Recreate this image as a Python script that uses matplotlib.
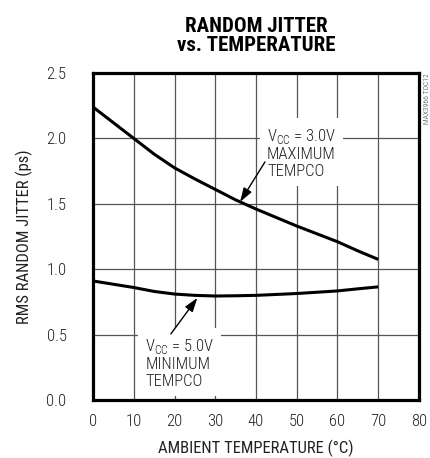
import matplotlib
matplotlib.use("Agg")
import matplotlib.pyplot as plt

# values
temp_c = [0, 5, 10, 15, 20, 25, 30, 35, 40, 45, 50, 55, 60, 65, 70]
jitter_3v0 = [2.24, 2.12, 2.00, 1.88, 1.775, 1.69, 1.61, 1.53, 1.46, 1.395, 1.33, 1.27, 1.21, 1.14, 1.075]
jitter_5v0 = [0.91, 0.885, 0.86, 0.83, 0.81, 0.80, 0.795, 0.797, 0.80, 0.807, 0.814, 0.824, 0.834, 0.85, 0.865]

xticks = [0, 10, 20, 30, 40, 50, 60, 70, 80]
yticks = [0.0, 0.5, 1.0, 1.5, 2.0, 2.5]

font = ["Roboto Condensed", "DejaVu Sans"]
plt.rcParams["font.family"] = font
plt.rcParams["font.weight"] = 300
plt.rcParams["mathtext.fontset"] = "custom"
plt.rcParams["mathtext.rm"] = "Roboto Condensed:light"

fig = plt.figure(figsize=(4.30, 4.58), dpi=100)
ax = fig.add_axes([93 / 430, 1 - 400 / 458, 326 / 430, 327 / 458])

ax.plot(temp_c, jitter_3v0, color="black", lw=2.2, solid_capstyle="butt", zorder=3)
ax.plot(temp_c, jitter_5v0, color="black", lw=2.2, solid_capstyle="butt", zorder=3)

ax.set_xlim(0, 80)
ax.set_ylim(0, 2.5)
ax.set_xticks(xticks)
ax.set_yticks(yticks)
ax.set_xticklabels([str(t) for t in xticks])
ax.set_yticklabels(["%.1f" % t for t in yticks])
ax.tick_params(length=0, labelsize=12, labelcolor="#222222")
ax.tick_params(axis="y", pad=19)
ax.tick_params(axis="x", pad=10)
ax.grid(True, color="#555555", lw=0.9)
for s in ax.spines.values():
    s.set_linewidth(2.3)

ax.set_xlabel("AMBIENT TEMPERATURE (°C)", fontsize=12, labelpad=8, color="#222222")
ax.set_ylabel("RMS RANDOM JITTER (ps)", fontsize=12, labelpad=10, color="#222222")

fig.text(256 / 430, 1 - 36 / 458, "RANDOM JITTER\nvs. TEMPERATURE", ha="center",
         va="center", fontsize=15, fontweight=900, linespacing=1.05)
fig.text(427 / 430, 1 - 73 / 458, "MAX3966 TOC12", rotation=90, ha="center",
         va="top", fontsize=5.5, color="#333333")

box = dict(facecolor="white", edgecolor="none", pad=5)
ax.text(42.7, 2.085, "V$_{\\mathrm{CC}}$ = 3.0V\nMAXIMUM\nTEMPCO", fontsize=12,
        va="top", ha="left", linespacing=1.1, bbox=box, color="#222222", zorder=4)
ax.text(12.8, 0.48, "V$_{\\mathrm{CC}}$ = 5.0V\nMINIMUM\nTEMPCO", fontsize=12,
        va="top", ha="left", linespacing=1.1, bbox=box, color="#222222", zorder=4)

arrow = dict(arrowstyle="-|>,head_length=0.6,head_width=0.2", color="black",
             lw=1.0, mutation_scale=14, shrinkA=0, shrinkB=0)
ax.annotate("", xy=(36.1, 1.515), xytext=(42.2, 1.82), arrowprops=arrow, zorder=5)
ax.annotate("", xy=(25.6, 0.78), xytext=(19.1, 0.505), arrowprops=arrow, zorder=5)

fig.savefig("out.png", dpi=100)
